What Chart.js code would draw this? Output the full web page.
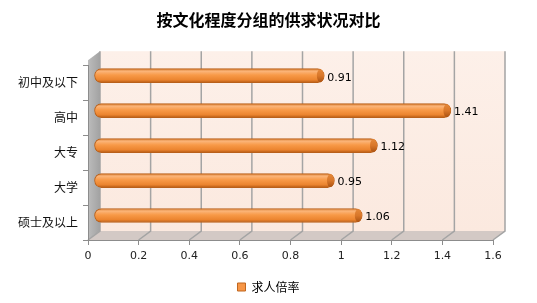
<!DOCTYPE html>
<html lang="zh">

<head>
  <meta charset="UTF-8">
  <title>按文化程度分组的供求状况对比</title>
  <script src="https://cdnjs.cloudflare.com/ajax/libs/Chart.js/4.3.0/chart.umd.js"></script>
  <style>
    body {
      margin: 0;
      background: #fff;
    }
  </style>
</head>

<body>
  <canvas id="chart" width="537" height="303"></canvas>

  <script>
    const chartTitle = '按文化程度分组的供求状况对比';
    const seriesName = '求人倍率';
    const categories = ['初中及以下', '高中', '大专', '大学', '硕士及以上'];
    const ratios = [0.91, 1.41, 1.12, 0.95, 1.06];
    const xMin = 0, xMax = 1.6, xStep = 0.2;

    const cjk = "'Noto Sans CJK SC', sans-serif";
    const latin = "'DejaVu Sans', sans-serif";

    // 3d depth of the walls and the shift of the bars into the box
    const depth = { dx: 12, dy: -9 };
    const barShift = { dx: 6, dy: -7 };

    const frame3d = {
      id: 'frame3d',
      beforeDraw(chart) {
        const { ctx, chartArea: a, scales: { x } } = chart;
        const L = a.left, R = a.right, B = a.bottom;
        const top = a.top - 14;
        const { dx, dy } = depth;
        ctx.save();

        // back wall
        const wall = ctx.createLinearGradient(0, top, 0, B + dy);
        wall.addColorStop(0, '#fdf0e9');
        wall.addColorStop(1, '#fbe9df');
        ctx.fillStyle = wall;
        ctx.fillRect(L + dx, top, R - L, B + dy - top);

        // left wall
        const side = ctx.createLinearGradient(L, 0, L + dx, 0);
        side.addColorStop(0, '#bcbcbc');
        side.addColorStop(1, '#a2a2a2');
        ctx.fillStyle = side;
        ctx.beginPath();
        ctx.moveTo(L, top - dy);
        ctx.lineTo(L + dx, top);
        ctx.lineTo(L + dx, B + dy);
        ctx.lineTo(L, B);
        ctx.closePath();
        ctx.fill();

        // floor
        ctx.fillStyle = '#d3c9c5';
        ctx.beginPath();
        ctx.moveTo(L, B);
        ctx.lineTo(L + dx, B + dy);
        ctx.lineTo(R + dx, B + dy);
        ctx.lineTo(R, B);
        ctx.closePath();
        ctx.fill();

        // grid lines on wall and floor
        ctx.strokeStyle = '#a4a4a4';
        ctx.lineWidth = 1.5;
        x.ticks.forEach(t => {
          const px = x.getPixelForValue(t.value);
          ctx.beginPath();
          ctx.moveTo(px + dx, top);
          ctx.lineTo(px + dx, B + dy);
          ctx.lineTo(px, B);
          ctx.stroke();
        });
        ctx.restore();
      }
    };

    const shiftBars = {
      id: 'shiftBars',
      beforeDatasetsDraw(chart) {
        chart.ctx.save();
        chart.ctx.translate(barShift.dx, barShift.dy);
      },
      afterDatasetsDraw(chart) {
        const ctx = chart.ctx;
        const meta = chart.getDatasetMeta(0);
        meta.data.forEach((el, i) => {
          // darker end cap of the cylinder
          const cap = ctx.createLinearGradient(0, el.y - 7, 0, el.y + 7);
          cap.addColorStop(0, '#e58a3c');
          cap.addColorStop(0.5, '#d9772a');
          cap.addColorStop(1, '#a85010');
          ctx.fillStyle = cap;
          ctx.beginPath();
          ctx.ellipse(el.x - 4, el.y, 3.5, 6.5, 0, 0, Math.PI * 2);
          ctx.fill();

          ctx.fillStyle = '#000';
          ctx.font = '11px ' + latin;
          ctx.textAlign = 'left';
          ctx.textBaseline = 'middle';
          ctx.fillText(ratios[i].toFixed(2), el.x + 3, el.y + 2);
        });
        ctx.restore();
      }
    };

    new Chart(document.getElementById('chart'), {
      type: 'bar',
      data: {
        labels: categories,
        datasets: [{
          label: seriesName,
          data: ratios,
          barThickness: 14,
          borderRadius: 7,
          borderSkipped: false,
          borderWidth: 1,
          borderColor: '#b9601a',
          clip: false,
          backgroundColor: c => {
            const chart = c.chart;
            if (!chart.chartArea) return '#f79646';
            const y = chart.scales.y.getPixelForValue(c.dataIndex);
            const g = chart.ctx.createLinearGradient(0, y - 7, 0, y + 7);
            g.addColorStop(0, '#d27526');
            g.addColorStop(0.18, '#fbb57a');
            g.addColorStop(0.45, '#f89a48');
            g.addColorStop(0.8, '#eb842f');
            g.addColorStop(1, '#b55a13');
            return g;
          }
        }]
      },
      options: {
        indexAxis: 'y',
        responsive: false,
        animation: false,
        layout: { padding: 0 },
        scales: {
          x: {
            min: xMin,
            max: xMax,
            ticks: {
              stepSize: xStep,
              color: '#222',
              padding: 5,
              font: { family: latin, size: 11 },
              callback: v => +v.toFixed(1)
            },
            grid: { drawOnChartArea: false, drawTicks: true, tickLength: 5, color: '#8c8c8c' },
            border: { color: '#8c8c8c' },
            afterFit: s => { s.height = 31; }
          },
          y: {
            offset: true,
            ticks: {
              color: '#111',
              padding: 5,
              font: { family: cjk, size: 12 }
            },
            grid: { offset: true, drawOnChartArea: false, drawTicks: true, tickLength: 5, color: '#8c8c8c' },
            border: { color: '#8c8c8c' },
            afterFit: s => { s.width = 88; }
          },
          // empty axis on the right, only keeps room for the 3d box
          yRight: {
            type: 'category',
            labels: categories,
            position: 'right',
            ticks: { display: false },
            grid: { display: false },
            border: { display: false },
            afterFit: s => { s.width = 44; }
          }
        },
        plugins: {
          title: {
            display: true,
            text: chartTitle,
            color: '#000',
            font: { family: cjk, size: 16, weight: 'bold' },
            padding: { top: 10, bottom: 36 }
          },
          legend: {
            position: 'bottom',
            labels: {
              boxWidth: 8,
              boxHeight: 8,
              color: '#333',
              padding: 10,
              font: { family: cjk, size: 12 },
              generateLabels: () => [{
                text: seriesName,
                fillStyle: '#f79646',
                strokeStyle: '#c0661f',
                lineWidth: 1,
                datasetIndex: 0
              }]
            }
          },
          tooltip: { enabled: false }
        }
      },
      plugins: [frame3d, shiftBars]
    });
  </script>
</body>

</html>
